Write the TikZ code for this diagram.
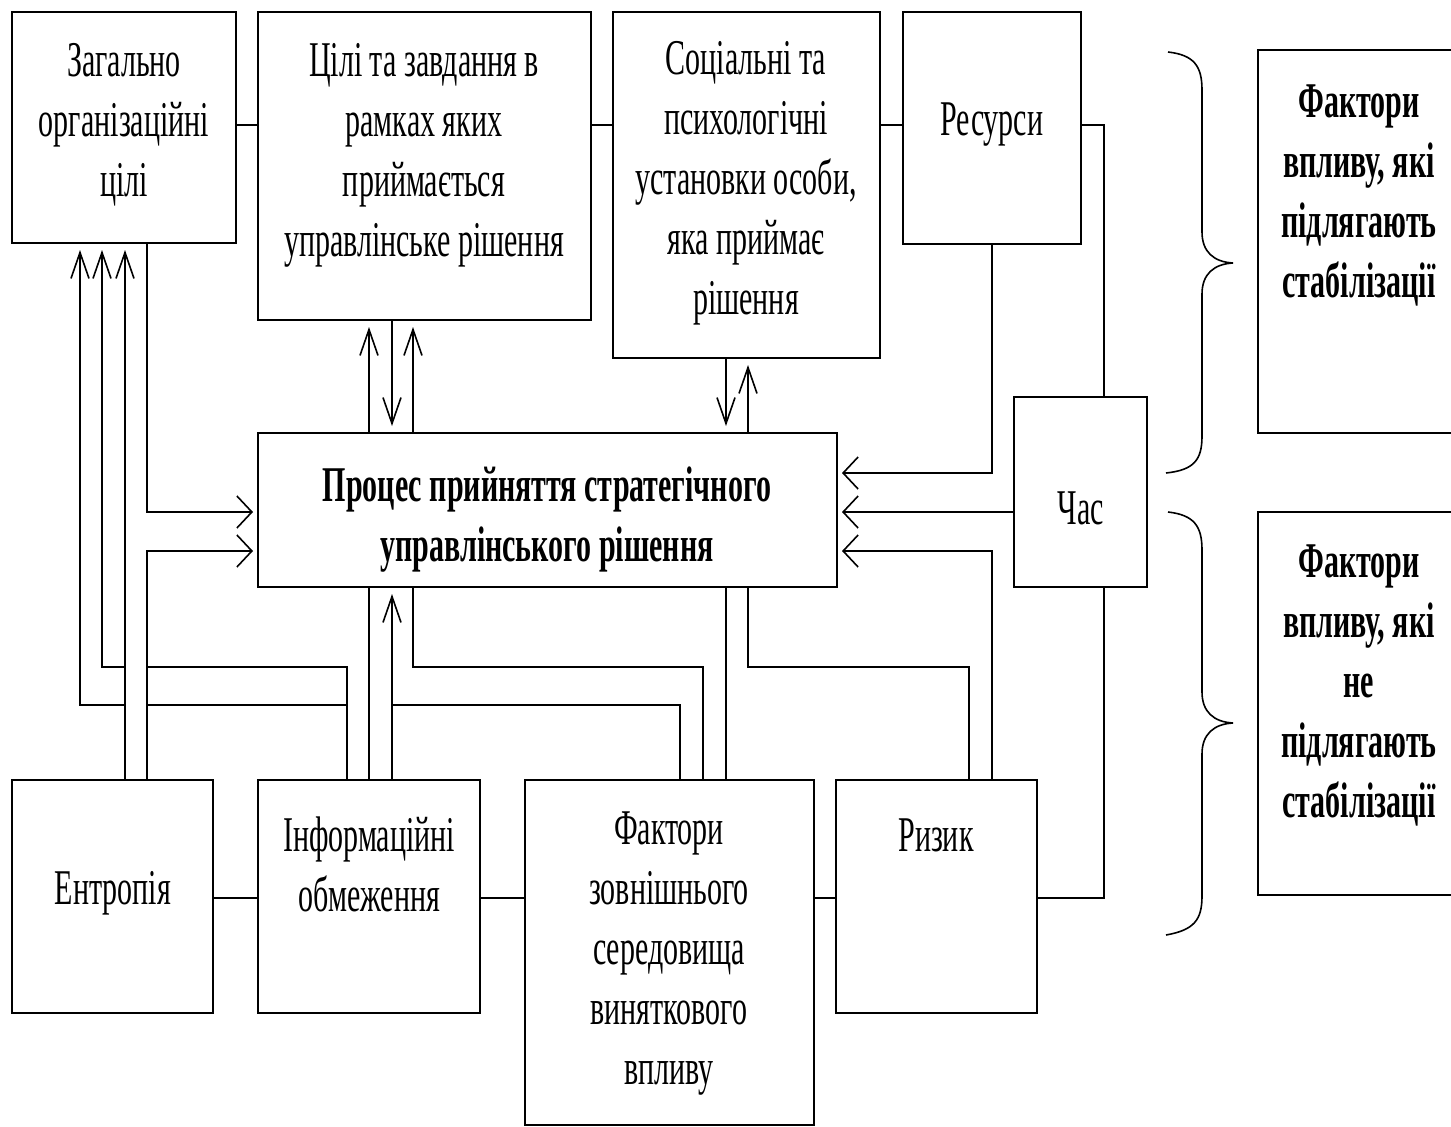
\documentclass[tikz,border=0pt]{standalone}
\usepackage{fontspec}
\usetikzlibrary{arrows.meta,calc}
\newfontfamily\tnr{Liberation Serif}[FakeStretch=0.6]
\begin{document}
\begin{tikzpicture}[x=1pt,y=-1pt,
  box/.style={draw=black,line width=2.2pt,inner sep=0pt,outer sep=0pt,fill=none},
  txt/.style={align=center,inner sep=0pt,yshift=-3pt,font=\tnr\fontsize{50}{60}\selectfont},
  btxt/.style={align=center,inner sep=0pt,yshift=-3pt,font=\tnr\bfseries\fontsize{50}{60}\selectfont},
  conn/.style={line width=1.6pt,black},
  va/.style={conn,-{Straight Barb[length=26pt,width=18pt]},shorten >=7pt},
  ha/.style={conn,-{Straight Barb[length=15pt,width=32pt]},shorten >=5pt},
  brace/.style={line width=1.6pt,black}]
\useasboundingbox (0,0) rectangle (1451,1127);
\fill[white] (0,0) rectangle (1451,1127);
\clip (0,0) rectangle (1451,1127);

% boxes
\node[box,minimum width=224pt,minimum height=231pt] (A) at (124,127.5) {};
\node[box,minimum width=333pt,minimum height=308pt] (B) at (424.5,166) {};
\node[box,minimum width=267pt,minimum height=346pt] (C) at (746.5,185) {};
\node[box,minimum width=178pt,minimum height=232pt] (D) at (992,128) {};
\node[box,minimum width=579pt,minimum height=154pt] (P) at (547.5,510) {};
\node[box,minimum width=133pt,minimum height=190pt] (T) at (1080.5,492) {};
\node[box,minimum width=201pt,minimum height=233pt] (E) at (112.5,896.5) {};
\node[box,minimum width=222pt,minimum height=233pt] (I) at (369,896.5) {};
\node[box,minimum width=289pt,minimum height=345pt] (F) at (669.5,952.5) {};
\node[box,minimum width=201pt,minimum height=233pt] (R) at (936.5,896.5) {};
\node[box,minimum width=212pt,minimum height=383pt] (S1) at (1364,241.5) {};
\node[box,minimum width=212pt,minimum height=383pt] (S2) at (1364,703.5) {};

% texts
\node[txt] (tA) at (124,122) {Загально\\організаційні\\цілі};
\node[txt] (tB) at (424,152) {Цілі та завдання в\\рамках яких\\приймається\\управлінське рішення};
\node[txt] (tC) at (746,180) {Соціальні та\\психологічні\\установки особи,\\яка приймає\\рішення};
\node[txt] (tD) at (992,122) {Ресурси};
\node[btxt] (tP) at (547,517) {Процес прийняття стратегічного\\управлінського рішення};
\node[txt] (tT) at (1081,505) {Час};
\node[txt] (tE) at (113,890) {Ентропія};
\node[txt] (tI) at (369,861) {Інформаційні\\обмеження};
\node[txt] (tF) at (669,951) {Фактори\\зовнішнього\\середовища\\виняткового\\впливу};
\node[txt] (tR) at (936,832) {Ризик};
\node[btxt] (tS1) at (1359,192) {Фактори\\впливу, які\\підлягають\\стабілізації};
\node[btxt] (tS2) at (1359,682) {Фактори\\впливу, які\\не\\підлягають\\стабілізації};

% helper coordinates
\coordinate (X80) at (80,0);
\coordinate (X102) at (102,0);
\coordinate (X125) at (125,0);
\coordinate (X147) at (147,0);
\coordinate (X347) at (347,0);
\coordinate (X369) at (369,0);
\coordinate (X392) at (392,0);
\coordinate (X413) at (413,0);
\coordinate (X680) at (680,0);
\coordinate (X703) at (703,0);
\coordinate (X726) at (726,0);
\coordinate (X748) at (748,0);
\coordinate (X969) at (969,0);
\coordinate (X992) at (992,0);
\coordinate (X1104) at (1104,0);
\coordinate (Y125) at (0,125);
\coordinate (Y473) at (0,473);
\coordinate (Y512) at (0,512);
\coordinate (Y551) at (0,551);
\coordinate (Y667) at (0,667);
\coordinate (Y705) at (0,705);
\coordinate (Y898) at (0,898);

% top row
\draw[conn] (A.east |- Y125) -- (B.west |- Y125);
\draw[conn] (B.east |- Y125) -- (C.west |- Y125);
\draw[conn] (C.east |- Y125) -- (D.west |- Y125);
\draw[conn] (D.east |- Y125) -| (T.north -| X1104);
% bottom row
\draw[conn] (E.east |- Y898) -- (I.west |- Y898);
\draw[conn] (I.east |- Y898) -- (F.west |- Y898);
\draw[conn] (F.east |- Y898) -- (R.west |- Y898);
\draw[conn] (T.south -| X1104) |- (R.east |- Y898);

% left side
\draw[va] (E.north -| X125) -- (A.south -| X125);
\draw[ha] (A.south -| X147) |- (P.west |- Y512);
\draw[ha] (E.north -| X147) |- (P.west |- Y551);
\draw[conn] (I.north -| X347) -- (X347 |- Y667) -- (X147 |- Y667);
\draw[va] (X125 |- Y667) -| (A.south -| X102);
\draw[conn] (X347 |- Y705) -- (X147 |- Y705);
\draw[va] (X125 |- Y705) -| (A.south -| X80);

% middle bottom
\draw[conn] (P.south -| X369) -- (I.north -| X369);
\draw[va] (I.north -| X392) -- (P.south -| X392);
\draw[conn] (F.north -| X680) |- (X392 |- Y705);
\draw[conn] (P.south -| X413) -- (X413 |- Y667) -- (X703 |- Y667) -- (F.north -| X703);
\draw[conn] (P.south -| X726) -- (F.north -| X726);
\draw[conn] (P.south -| X748) -- (X748 |- Y667) -- (X969 |- Y667) -- (R.north -| X969);

% middle top
\draw[va] (P.north -| X369) -- (B.south -| X369);
\draw[va] (B.south -| X392) -- (P.north -| X392);
\draw[va] (P.north -| X413) -- (B.south -| X413);
\draw[va] (C.south -| X726) -- (P.north -| X726);
\draw[va] (P.north -| X748) -- (C.south -| X748);

% right side
\draw[ha] (D.south -| X992) |- (P.east |- Y473);
\draw[ha] (T.west |- Y512) -- (P.east |- Y512);
\draw[ha] (R.north -| X992) |- (P.east |- Y551);

% braces
\draw[brace] (1168,52) .. controls (1194,55) and (1202,66) .. (1202,90) -- (1202,232)
  .. controls (1202,252) and (1214,262) .. (1233,263)
  .. controls (1214,264) and (1202,274) .. (1202,294) -- (1202,436)
  .. controls (1202,460) and (1194,470) .. (1166,473);
\draw[brace] (1168,512) .. controls (1194,515) and (1202,526) .. (1202,550) -- (1202,692)
  .. controls (1202,712) and (1214,722) .. (1233,723)
  .. controls (1214,724) and (1202,734) .. (1202,754) -- (1202,896)
  .. controls (1202,920) and (1194,930) .. (1166,935);
\end{tikzpicture}
\end{document}
